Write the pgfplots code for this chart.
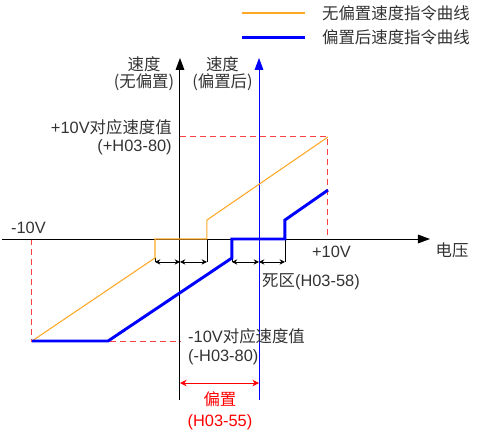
\documentclass[border=0pt]{standalone}
\usepackage{fontspec}
\setmainfont{Liberation Sans}
\newfontfamily\cjk{Noto Sans CJK SC}
\usepackage{pgfplots}
\pgfplotsset{compat=1.18}
\usetikzlibrary{arrows.meta}
\definecolor{ora}{HTML}{FFA726}
\definecolor{blu}{HTML}{0000FF}
\definecolor{rd}{HTML}{FF4040}
\definecolor{txt}{HTML}{333333}
\begin{document}
\fontsize{12.3}{14}\selectfont
\begin{tikzpicture}
\begin{axis}[
  width=360pt, height=323.25pt, scale only axis,
  xmin=-12.16, xmax=20.27, ymin=-188.2, ymax=234.3,
  axis lines=none, clip=false,
]
\path (rel axis cs:0,0) rectangle (rel axis cs:1,1);
% red dashed guides
\addplot[rd, line width=0.75pt, dash pattern=on 4.5pt off 3pt] coordinates {(0,100) (10,100) (10,0)};
\addplot[rd, line width=0.75pt, dash pattern=on 4.5pt off 3pt] coordinates {(-10,0) (-10,-100) (0,-100)};
% axes
\draw[black, line width=0.75pt, -{Triangle[length=9pt,width=6.5pt]}] (axis cs:-12.03,0) -- (axis cs:16.89,0);
\draw[black, line width=0.75pt, -{Triangle[length=9pt,width=6.5pt]}] (axis cs:0,-157.8) -- (axis cs:0,177.5);
\draw[blu, line width=0.75pt, -{Triangle[length=9pt,width=6.5pt]}] (axis cs:5.34,-157.8) -- (axis cs:5.34,177.5);
% dimension lines
\draw[black, line width=0.6pt] (axis cs:-1.69,-18.6) -- (axis cs:-1.69,-22.5);
\draw[black, line width=0.6pt] (axis cs:1.82,0) -- (axis cs:1.82,-22.5);
\draw[black, line width=0.6pt] (axis cs:3.51,-18.6) -- (axis cs:3.51,-22.5);
\draw[black, line width=0.6pt] (axis cs:7.09,0) -- (axis cs:7.09,-22.5);
\draw[black, line width=0.6pt, {Stealth[length=4pt,width=4pt]}-{Stealth[length=4pt,width=4pt]}] (axis cs:-1.69,-22.5) -- (axis cs:0,-22.5);
\draw[black, line width=0.6pt, {Stealth[length=4pt,width=4pt]}-{Stealth[length=4pt,width=4pt]}] (axis cs:0,-22.5) -- (axis cs:1.82,-22.5);
\draw[black, line width=0.6pt, {Stealth[length=4pt,width=4pt]}-{Stealth[length=4pt,width=4pt]}] (axis cs:3.51,-22.5) -- (axis cs:5.34,-22.5);
\draw[black, line width=0.6pt, {Stealth[length=4pt,width=4pt]}-{Stealth[length=4pt,width=4pt]}] (axis cs:5.34,-22.5) -- (axis cs:7.09,-22.5);
\draw[red, line width=0.75pt, {Stealth[length=5pt,width=5pt]}-{Stealth[length=5pt,width=5pt]}] (axis cs:0,-141.2) -- (axis cs:5.34,-141.2);
% curves
\addplot[ora, line width=0.8pt] coordinates {(-10,-100) (-1.69,-18.6) (-1.69,0) (1.82,0) (1.82,18.6) (10,100)};
\addplot[blu, line width=2.2pt] coordinates {(-10,-100) (-4.86,-100) (3.51,-18.6) (3.51,0) (7.09,0) (7.09,18.6) (10,48)};
% legend
\addplot[ora, line width=1pt] coordinates {(4.19,221.6) (8.45,221.6)};
\addplot[blu, line width=2.2pt] coordinates {(4.19,197.1) (8.45,197.1)};
\node[anchor=west, text=txt, inner sep=0pt] at (axis cs:9.59,221.6) {\cjk 无偏置速度指令曲线};
\node[anchor=west, text=txt, inner sep=0pt] at (axis cs:9.59,197.6) {\cjk 偏置后速度指令曲线};
% labels
\node[text=txt, inner sep=0pt] at (axis cs:-2.43,171.5) {\cjk 速度};
\node[text=txt, inner sep=0pt] at (axis cs:-2.43,153.4) {\cjk (无偏置)};
\node[text=txt, inner sep=0pt] at (axis cs:2.87,171.5) {\cjk 速度};
\node[text=txt, inner sep=0pt] at (axis cs:2.87,153.4) {\cjk (偏置后)};
\node[anchor=east, text=txt, inner sep=0pt] at (axis cs:-0.54,109.8) {+10V{\cjk 对应速度值}};
\node[anchor=east, text=txt, inner sep=0pt] at (axis cs:-0.54,90.2) {(+H03-80)};
\node[text=txt, inner sep=0pt] at (axis cs:-10.24,10.8) {-10V};
\node[text=txt, inner sep=0pt] at (axis cs:10.24,-12.7) {+10V};
\node[text=txt, inner sep=0pt] at (axis cs:18.38,-10.8) {\cjk 电压};
\node[anchor=west, text=txt, inner sep=0pt] at (axis cs:5.54,-42.2) {{\cjk 死区}(H03-58)};
\node[anchor=west, text=txt, inner sep=0pt] at (axis cs:0.54,-95.1) {-10V{\cjk 对应速度值}};
\node[anchor=west, text=txt, inner sep=0pt] at (axis cs:0.54,-115.7) {(-H03-80)};
\node[text=red, inner sep=0pt] at (axis cs:2.70,-156.9) {\cjk 偏置};
\node[text=red, inner sep=0pt] at (axis cs:2.70,-179.4) {(H03-55)};
\end{axis}
\end{tikzpicture}
\end{document}
